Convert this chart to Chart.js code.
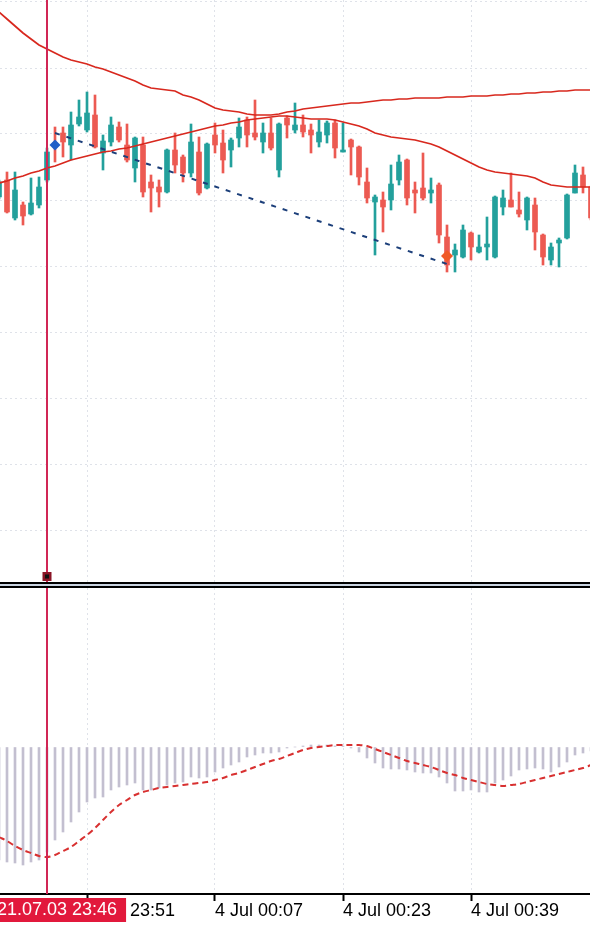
<!DOCTYPE html>
<html><head><meta charset="utf-8">
<script src="https://cdn.jsdelivr.net/npm/chart.js@4.4.1/dist/chart.umd.min.js"></script>
<style>
html,body{margin:0;padding:0;background:#fff;width:590px;height:934px;overflow:hidden;}
#main{position:absolute;left:0;top:0;}
#sep{position:absolute;left:0;top:582px;width:590px;height:2px;border-top:2px solid #000;border-bottom:2px solid #000;background:#c9d3e0;}
#macd{position:absolute;left:0;top:588px;}
</style></head><body>
<canvas id="main" width="590" height="582"></canvas>
<div id="sep"></div>
<canvas id="macd" width="590" height="346"></canvas>
<script>
// ---- data (M1 candles, index 0 = 23:40, index 6 = 23:46) ----
const opens  = [403,420,382,395,386,395,420,457,467,455,476,470,485,447,458,473,455,432,455,418,413,408,450,443,427,448,412,465,457,450,462,480,467,458,467,430,482,470,475,470,458,465,477,448,460,453,418,398,400,400,420,440,410,412,407,415,363,345,343,367,348,353,343,393,400,390,380,395,365,340,357,362,407,425,413];
const closes = [418,388,410,384,397,413,448,453,458,475,483,487,453,459,475,460,440,462,408,412,408,450,435,427,458,407,456,455,440,460,473,465,463,467,452,476,475,475,468,465,468,477,452,450,453,423,402,403,393,416,438,402,407,402,410,365,335,350,370,353,353,356,403,402,393,386,402,368,343,353,360,405,427,413,382];
const highs  = [420,428,428,398,422,423,452,473,473,488,500,508,505,465,483,478,476,463,463,425,420,451,467,445,476,463,457,477,470,462,482,483,500,477,482,477,484,497,485,476,480,479,480,477,461,454,432,405,408,435,445,441,418,447,422,417,375,356,375,368,365,383,404,410,427,408,403,402,366,357,362,406,435,433,414];
const lows   = [401,387,380,375,385,392,418,438,443,440,474,468,452,430,454,458,438,418,403,388,393,407,427,418,423,405,411,447,427,433,453,453,460,447,450,423,462,467,463,447,453,457,442,448,425,415,397,345,368,390,415,395,387,400,397,357,328,328,342,340,347,340,342,385,393,383,370,350,335,335,333,361,407,407,380];
const maSlow = [588,581,574,567,561,555,551,547,543,540,538,536,533,531,528,525,522,519,515,512,511,510,509,505,503,500,496,492,490,489,488,486,485,485,485,486,488,489,491,492,493,494,495,496,497,497,498,499,500,500,501,501,502,502,502,502,503,503,503,504,504,504,505,505,506,506,507,507,508,508,509,509,510,510,510];
const maFast = [417,419,422,424,427,429,432,434,437,440,442,444,446,448,449,451,452,454,456,458,460,462,464,466,468,470,472,474,475,477,478,480,481,482,483,484,484,483,482,481,481,481,480,478,476,474,471,467,465,463,462,461,460,458,456,453,449,445,441,437,433,430,428,427,426,425,424,422,418,415,414,413,413,413,413];
const macdHist = [-113,-115,-116,-118,-115,-113,-105,-93,-85,-75,-65,-55,-51,-50,-43,-40,-38,-36,-43,-43,-41,-38,-36,-35,-30,-31,-30,-25,-21,-18,-15,-10,-8,-6,-6,-5,-1,0,1,2,2,2,1,1,-1,-5,-11,-16,-21,-22,-22,-23,-25,-26,-26,-30,-36,-44,-44,-43,-45,-45,-36,-33,-29,-23,-22,-21,-22,-25,-20,-15,-8,-6,-4];
const macdSignal = [-90,-94,-99,-103,-106,-109,-110,-108,-104,-100,-94,-88,-81,-73,-65,-58,-53,-48,-45,-43,-41,-40,-39,-38,-37,-36,-35,-33,-31,-28,-26,-23,-20,-17,-14,-12,-9,-6,-3,-1,0,1,2,2,2,2,1,-2,-5,-8,-11,-14,-16,-18,-20,-23,-26,-28,-31,-33,-35,-37,-38,-39,-38,-37,-35,-33,-31,-29,-27,-25,-23,-21,-18];
const tradeIdx = [7, 56];
const tradeLine = [467, 336];
const tradeMarks = [455, 344];
const tickIndex = [11, 27, 43, 59];
const tickLabels = ['3 Jul 23:51', '4 Jul 00:07', '4 Jul 00:23', '4 Jul 00:39'];
const priceGrid = [598, 532, 466, 400, 334, 268, 202, 136, 70];
const macdGrid = [0];
const crossIndex = 6;
const crossLabel = '2021.07.03 23:46';

// ---- styles ----
const UP = '#23a09c', DOWN = '#ec5a52', MA = '#d8281e', CROSS = '#d12655';
const GRID = '#dfe2e9';
const FONT = '"Liberation Sans", Arial, sans-serif';
Chart.defaults.font.family = FONT;
const XMIN = 0.125, XMAX = 73.875;
const pts = arr => arr.map((v, i) => ({x: i, y: v}));
const candleColor = c => closes[c.dataIndex] >= opens[c.dataIndex] ? UP : DOWN;
const setTicks = vals => scale => { scale.ticks = vals.map(v => ({value: v})); };

const crossPlugin = {
  id: 'cross',
  afterDatasetsDraw(chart) {
    const ctx = chart.ctx, a = chart.chartArea;
    const x = chart.scales.x.getPixelForValue(crossIndex);
    ctx.save();
    ctx.strokeStyle = CROSS; ctx.lineWidth = 2;
    ctx.beginPath(); ctx.moveTo(x, a.top); ctx.lineTo(x, a.bottom); ctx.stroke();
    if (chart.canvas.id === 'main') {
      ctx.fillStyle = '#8a1426'; ctx.fillRect(x - 4.5, a.bottom - 10, 9, 9);
      ctx.fillStyle = '#111'; ctx.fillRect(x - 2, a.bottom - 7.5, 4, 4);
    }
    ctx.restore();
  }
};
const labelPlugin = {
  id: 'crossLabel',
  afterDraw(chart) {
    const ctx = chart.ctx, a = chart.chartArea;
    const x = chart.scales.x.getPixelForValue(crossIndex);
    ctx.save();
    ctx.font = '18px ' + FONT;
    const w = ctx.measureText(crossLabel).width + 18;
    ctx.fillStyle = '#e2193c';
    ctx.fillRect(x - w / 2, a.bottom + 4, w, 24);
    ctx.fillStyle = '#fff'; ctx.textAlign = 'center'; ctx.textBaseline = 'middle';
    ctx.fillText(crossLabel, x, a.bottom + 16.5);
    ctx.restore();
  }
};

const baseOpts = {
  responsive: false, animation: false, devicePixelRatio: 1, events: [],
  layout: {padding: 0, autoPadding: false},
  plugins: {legend: {display: false}, tooltip: {enabled: false}}
};

new Chart(document.getElementById('main'), {
  type: 'bar',
  data: {
    datasets: [
      {type: 'line', data: [{x: tradeIdx[0], y: tradeMarks[0]}], showLine: false, pointStyle: 'rectRot', pointRadius: 5.5, pointBackgroundColor: '#1f5fc8', pointBorderWidth: 0, order: 1},
      {type: 'line', data: [{x: tradeIdx[1], y: tradeMarks[1]}], showLine: false, pointStyle: 'rectRot', pointRadius: 6, pointBackgroundColor: '#f05a28', pointBorderWidth: 0, order: 1},
      {type: 'line', data: tradeIdx.map((v, i) => ({x: v, y: tradeLine[i]})), borderColor: '#1c3f7a', borderWidth: 2, borderDash: [5, 7], pointRadius: 0, order: 2},
      {type: 'line', data: pts(maSlow), borderColor: MA, borderWidth: 1.7, pointRadius: 0, tension: 0, order: 3},
      {type: 'line', data: pts(maFast), borderColor: MA, borderWidth: 1.7, pointRadius: 0, tension: 0, order: 3},
      {type: 'bar', data: opens.map((o, i) => ({x: i, y: [o, closes[i]]})), backgroundColor: candleColor, barThickness: 5, minBarLength: 1, grouped: false, order: 4},
      {type: 'bar', data: lows.map((l, i) => ({x: i, y: [l, highs[i]]})), backgroundColor: candleColor, barThickness: 2, grouped: false, order: 5}
    ]
  },
  options: Object.assign({}, baseOpts, {
    scales: {
      x: {type: 'linear', min: XMIN, max: XMAX, offset: false, afterBuildTicks: setTicks(tickIndex),
          ticks: {display: false}, grid: {offset: false, drawTicks: false, color: GRID, lineWidth: 1},
          border: {display: false, dash: [2, 3]}},
      y: {type: 'linear', min: 18, max: 600, afterBuildTicks: setTicks(priceGrid),
          ticks: {display: false}, grid: {drawTicks: false, color: GRID, lineWidth: 1},
          border: {display: false, dash: [2, 3]}}
    }
  }),
  plugins: [crossPlugin]
});

new Chart(document.getElementById('macd'), {
  type: 'bar',
  data: {
    datasets: [
      {type: 'line', data: pts(macdSignal), borderColor: '#d83030', borderWidth: 2, borderDash: [6, 4], pointRadius: 0, tension: 0.3, order: 1},
      {type: 'bar', data: pts(macdHist), backgroundColor: '#c3bfd0', barThickness: 2, grouped: false, order: 2}
    ]
  },
  options: Object.assign({}, baseOpts, {
    scales: {
      x: {type: 'linear', min: XMIN, max: XMAX, offset: false, afterBuildTicks: setTicks(tickIndex),
          afterFit: s => { s.height = 40; },
          ticks: {display: true, autoSkip: false, maxRotation: 0, align: 'start', padding: 1, color: '#000',
                  font: {size: 18, family: FONT, lineHeight: 1},
                  callback: v => tickLabels[tickIndex.indexOf(v)]},
          grid: {offset: false, drawTicks: true, tickLength: 7, tickWidth: 2, tickColor: '#000', color: GRID, lineWidth: 1},
          border: {display: true, color: '#000', width: 2, dash: [2, 3]}},
      y: {type: 'linear', min: -147, max: 159, afterBuildTicks: setTicks(macdGrid),
          ticks: {display: false}, grid: {drawTicks: false, color: 'rgba(0,0,0,0)'},
          border: {display: false}}
    }
  }),
  plugins: [crossPlugin, labelPlugin]
});
</script></body></html>
